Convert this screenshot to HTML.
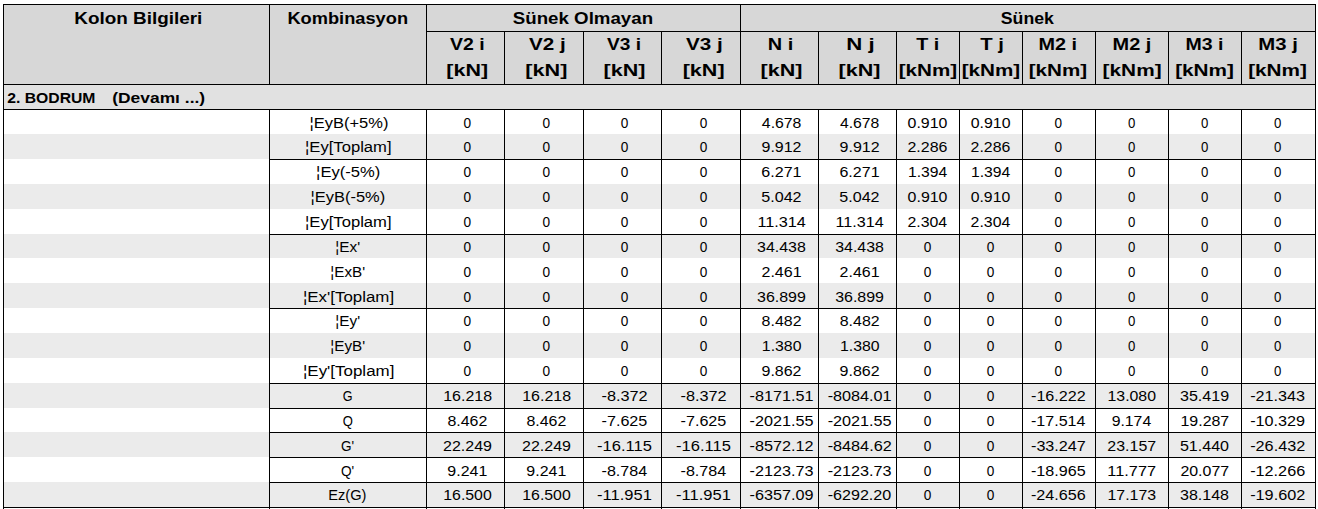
<!DOCTYPE html>
<html><head><meta charset="utf-8"><title>Tablo</title>
<style>
html,body{margin:0;padding:0;background:#fff;}
body{width:1318px;height:509px;position:relative;overflow:hidden;font-family:"Liberation Sans",sans-serif;color:#000;}
.r{position:absolute;}
.t{position:absolute;left:0;display:block;height:26px;line-height:26px;white-space:pre;transform-origin:0 0;}
.h{font-size:16.5px;font-weight:bold;}
.b{font-size:14px;}
.s{font-size:14px;font-weight:bold;}
</style></head><body>
<div class="r" style="left:3px;top:4px;width:1313px;height:81px;background:#d7d7d7"></div>
<div class="r" style="left:3px;top:85px;width:1313px;height:24px;background:#e1e1e1"></div>
<div class="r" style="left:3px;top:134px;width:1313px;height:25px;background:#ebebeb"></div>
<div class="r" style="left:3px;top:184px;width:1313px;height:25px;background:#ebebeb"></div>
<div class="r" style="left:3px;top:234px;width:1313px;height:24px;background:#ebebeb"></div>
<div class="r" style="left:3px;top:283px;width:1313px;height:25px;background:#ebebeb"></div>
<div class="r" style="left:3px;top:333px;width:1313px;height:25px;background:#ebebeb"></div>
<div class="r" style="left:3px;top:383px;width:1313px;height:25px;background:#ebebeb"></div>
<div class="r" style="left:3px;top:432px;width:1313px;height:25px;background:#ebebeb"></div>
<div class="r" style="left:3px;top:482px;width:1313px;height:25px;background:#ebebeb"></div>
<div class="r" style="left:3px;top:4px;width:1313px;height:1px;background:#000"></div>
<div class="r" style="left:426px;top:31px;width:890px;height:1px;background:#000"></div>
<div class="r" style="left:3px;top:84px;width:1313px;height:1px;background:#000"></div>
<div class="r" style="left:3px;top:109px;width:1313px;height:1px;background:#000"></div>
<div class="r" style="left:269px;top:159px;width:1047px;height:1px;background:#000"></div>
<div class="r" style="left:269px;top:234px;width:1047px;height:1px;background:#000"></div>
<div class="r" style="left:269px;top:308px;width:1047px;height:1px;background:#000"></div>
<div class="r" style="left:269px;top:383px;width:1047px;height:1px;background:#000"></div>
<div class="r" style="left:269px;top:408px;width:1047px;height:1px;background:#000"></div>
<div class="r" style="left:269px;top:432px;width:1047px;height:1px;background:#000"></div>
<div class="r" style="left:269px;top:457px;width:1047px;height:1px;background:#000"></div>
<div class="r" style="left:269px;top:482px;width:1047px;height:1px;background:#000"></div>
<div class="r" style="left:3px;top:507px;width:1313px;height:1px;background:#000"></div>
<div class="r" style="left:3px;top:4px;width:1px;height:505px;background:#000"></div>
<div class="r" style="left:1315px;top:4px;width:1px;height:505px;background:#000"></div>
<div class="r" style="left:269px;top:4px;width:1px;height:80px;background:#000"></div>
<div class="r" style="left:269px;top:109px;width:1px;height:400px;background:#000"></div>
<div class="r" style="left:426px;top:4px;width:1px;height:80px;background:#000"></div>
<div class="r" style="left:426px;top:109px;width:1px;height:400px;background:#000"></div>
<div class="r" style="left:504px;top:31px;width:1px;height:53px;background:#000"></div>
<div class="r" style="left:504px;top:109px;width:1px;height:400px;background:#000"></div>
<div class="r" style="left:583px;top:31px;width:1px;height:53px;background:#000"></div>
<div class="r" style="left:583px;top:109px;width:1px;height:400px;background:#000"></div>
<div class="r" style="left:661px;top:31px;width:1px;height:53px;background:#000"></div>
<div class="r" style="left:661px;top:109px;width:1px;height:400px;background:#000"></div>
<div class="r" style="left:740px;top:4px;width:1px;height:80px;background:#000"></div>
<div class="r" style="left:740px;top:109px;width:1px;height:400px;background:#000"></div>
<div class="r" style="left:818px;top:31px;width:1px;height:53px;background:#000"></div>
<div class="r" style="left:818px;top:109px;width:1px;height:400px;background:#000"></div>
<div class="r" style="left:896px;top:31px;width:1px;height:53px;background:#000"></div>
<div class="r" style="left:896px;top:109px;width:1px;height:400px;background:#000"></div>
<div class="r" style="left:959px;top:31px;width:1px;height:53px;background:#000"></div>
<div class="r" style="left:959px;top:109px;width:1px;height:400px;background:#000"></div>
<div class="r" style="left:1022px;top:31px;width:1px;height:53px;background:#000"></div>
<div class="r" style="left:1022px;top:109px;width:1px;height:400px;background:#000"></div>
<div class="r" style="left:1095px;top:31px;width:1px;height:53px;background:#000"></div>
<div class="r" style="left:1095px;top:109px;width:1px;height:400px;background:#000"></div>
<div class="r" style="left:1168px;top:31px;width:1px;height:53px;background:#000"></div>
<div class="r" style="left:1168px;top:109px;width:1px;height:400px;background:#000"></div>
<div class="r" style="left:1241px;top:31px;width:1px;height:53px;background:#000"></div>
<div class="r" style="left:1241px;top:109px;width:1px;height:400px;background:#000"></div>
<span class="t h" style="top:5px;transform:translateX(74.31px) scaleX(1.1441)">Kolon Bilgileri</span>
<span class="t h" style="top:5px;transform:translateX(287.43px) scaleX(1.1057)">Kombinasyon</span>
<span class="t h" style="top:5px;transform:translateX(512.81px) scaleX(1.1331)">Sünek Olmayan</span>
<span class="t h" style="top:5px;transform:translateX(1000.78px) scaleX(1.0732)">Sünek</span>
<span class="t h" style="top:31px;transform:translateX(450.09px) scaleX(1.1789)">V2 i</span>
<span class="t h" style="top:31px;transform:translateX(529.03px) scaleX(1.2500)">V2 j</span>
<span class="t h" style="top:31px;transform:translateX(607.05px) scaleX(1.1581)">V3 i</span>
<span class="t h" style="top:31px;transform:translateX(686.03px) scaleX(1.2500)">V3 j</span>
<span class="t h" style="top:31px;transform:translateX(767.72px) scaleX(1.2094)">N i</span>
<span class="t h" style="top:31px;transform:translateX(846.32px) scaleX(1.3481)">N j</span>
<span class="t h" style="top:31px;transform:translateX(916.27px) scaleX(1.1939)">T i</span>
<span class="t h" style="top:31px;transform:translateX(980.30px) scaleX(1.2305)">T j</span>
<span class="t h" style="top:31px;transform:translateX(1038.45px) scaleX(1.2020)">M2 i</span>
<span class="t h" style="top:31px;transform:translateX(1112.61px) scaleX(1.2077)">M2 j</span>
<span class="t h" style="top:31px;transform:translateX(1185.50px) scaleX(1.1822)">M3 i</span>
<span class="t h" style="top:31px;transform:translateX(1258.29px) scaleX(1.2322)">M3 j</span>
<span class="t h" style="top:57px;transform:translateX(446.37px) scaleX(1.3005)">[kN]</span>
<span class="t h" style="top:57px;transform:translateX(525.28px) scaleX(1.3111)">[kN]</span>
<span class="t h" style="top:57px;transform:translateX(603.58px) scaleX(1.3044)">[kN]</span>
<span class="t h" style="top:57px;transform:translateX(682.67px) scaleX(1.3055)">[kN]</span>
<span class="t h" style="top:57px;transform:translateX(760.58px) scaleX(1.3044)">[kN]</span>
<span class="t h" style="top:57px;transform:translateX(838.49px) scaleX(1.3056)">[kN]</span>
<span class="t h" style="top:57px;transform:translateX(898.65px) scaleX(1.2504)">[kNm]</span>
<span class="t h" style="top:57px;transform:translateX(961.66px) scaleX(1.2531)">[kNm]</span>
<span class="t h" style="top:57px;transform:translateX(1028.65px) scaleX(1.2504)">[kNm]</span>
<span class="t h" style="top:57px;transform:translateX(1102.61px) scaleX(1.2608)">[kNm]</span>
<span class="t h" style="top:57px;transform:translateX(1175.16px) scaleX(1.2584)">[kNm]</span>
<span class="t h" style="top:57px;transform:translateX(1248.16px) scaleX(1.2584)">[kNm]</span>
<span class="t s" style="top:84.5px;transform:translateX(7.21px) scaleX(1.1236)">2. BODRUM</span>
<span class="t s" style="top:84.5px;transform:translateX(112.22px) scaleX(1.2436)">(Devamı ...)</span>
<span class="t b" style="top:110px;transform:translateX(309.45px) scaleX(1.1778)">¦EyB(+5%)</span>
<span class="t b" style="top:110px;transform:translateX(463.62px) scaleX(0.9751)">0</span>
<span class="t b" style="top:110px;transform:translateX(542.62px) scaleX(0.9751)">0</span>
<span class="t b" style="top:110px;transform:translateX(620.76px) scaleX(0.9736)">0</span>
<span class="t b" style="top:110px;transform:translateX(699.76px) scaleX(0.9736)">0</span>
<span class="t b" style="top:110px;transform:translateX(761.86px) scaleX(1.1275)">4.678</span>
<span class="t b" style="top:110px;transform:translateX(839.97px) scaleX(1.1231)">4.678</span>
<span class="t b" style="top:110px;transform:translateX(907.58px) scaleX(1.1380)">0.910</span>
<span class="t b" style="top:110px;transform:translateX(970.68px) scaleX(1.1361)">0.910</span>
<span class="t b" style="top:110px;transform:translateX(1054.51px) scaleX(0.9703)">0</span>
<span class="t b" style="top:110px;transform:translateX(1128.01px) scaleX(0.9426)">0</span>
<span class="t b" style="top:110px;transform:translateX(1201.01px) scaleX(0.9426)">0</span>
<span class="t b" style="top:110px;transform:translateX(1274.01px) scaleX(0.9426)">0</span>
<span class="t b" style="top:134px;transform:translateX(305.05px) scaleX(1.1868)">¦Ey[Toplam]</span>
<span class="t b" style="top:134px;transform:translateX(463.61px) scaleX(0.9748)">0</span>
<span class="t b" style="top:134px;transform:translateX(542.61px) scaleX(0.9748)">0</span>
<span class="t b" style="top:134px;transform:translateX(620.76px) scaleX(0.9744)">0</span>
<span class="t b" style="top:134px;transform:translateX(699.76px) scaleX(0.9744)">0</span>
<span class="t b" style="top:134px;transform:translateX(761.49px) scaleX(1.1416)">9.912</span>
<span class="t b" style="top:134px;transform:translateX(839.59px) scaleX(1.1427)">9.912</span>
<span class="t b" style="top:134px;transform:translateX(907.49px) scaleX(1.1410)">2.286</span>
<span class="t b" style="top:134px;transform:translateX(970.60px) scaleX(1.1342)">2.286</span>
<span class="t b" style="top:134px;transform:translateX(1054.51px) scaleX(0.9708)">0</span>
<span class="t b" style="top:134px;transform:translateX(1128.01px) scaleX(0.9424)">0</span>
<span class="t b" style="top:134px;transform:translateX(1201.01px) scaleX(0.9424)">0</span>
<span class="t b" style="top:134px;transform:translateX(1274.01px) scaleX(0.9424)">0</span>
<span class="t b" style="top:159px;transform:translateX(316.10px) scaleX(1.1832)">¦Ey(-5%)</span>
<span class="t b" style="top:159px;transform:translateX(463.62px) scaleX(0.9751)">0</span>
<span class="t b" style="top:159px;transform:translateX(542.62px) scaleX(0.9751)">0</span>
<span class="t b" style="top:159px;transform:translateX(620.76px) scaleX(0.9736)">0</span>
<span class="t b" style="top:159px;transform:translateX(699.76px) scaleX(0.9736)">0</span>
<span class="t b" style="top:159px;transform:translateX(761.37px) scaleX(1.1460)">6.271</span>
<span class="t b" style="top:159px;transform:translateX(839.46px) scaleX(1.1440)">6.271</span>
<span class="t b" style="top:159px;transform:translateX(907.93px) scaleX(1.1185)">1.394</span>
<span class="t b" style="top:159px;transform:translateX(970.99px) scaleX(1.1229)">1.394</span>
<span class="t b" style="top:159px;transform:translateX(1054.51px) scaleX(0.9703)">0</span>
<span class="t b" style="top:159px;transform:translateX(1128.01px) scaleX(0.9426)">0</span>
<span class="t b" style="top:159px;transform:translateX(1201.01px) scaleX(0.9426)">0</span>
<span class="t b" style="top:159px;transform:translateX(1274.01px) scaleX(0.9426)">0</span>
<span class="t b" style="top:184px;transform:translateX(310.58px) scaleX(1.1733)">¦EyB(-5%)</span>
<span class="t b" style="top:184px;transform:translateX(463.61px) scaleX(0.9748)">0</span>
<span class="t b" style="top:184px;transform:translateX(542.61px) scaleX(0.9748)">0</span>
<span class="t b" style="top:184px;transform:translateX(620.76px) scaleX(0.9744)">0</span>
<span class="t b" style="top:184px;transform:translateX(699.76px) scaleX(0.9744)">0</span>
<span class="t b" style="top:184px;transform:translateX(761.23px) scaleX(1.1511)">5.042</span>
<span class="t b" style="top:184px;transform:translateX(839.33px) scaleX(1.1481)">5.042</span>
<span class="t b" style="top:184px;transform:translateX(907.59px) scaleX(1.1380)">0.910</span>
<span class="t b" style="top:184px;transform:translateX(970.69px) scaleX(1.1282)">0.910</span>
<span class="t b" style="top:184px;transform:translateX(1054.51px) scaleX(0.9708)">0</span>
<span class="t b" style="top:184px;transform:translateX(1128.01px) scaleX(0.9424)">0</span>
<span class="t b" style="top:184px;transform:translateX(1201.01px) scaleX(0.9424)">0</span>
<span class="t b" style="top:184px;transform:translateX(1274.01px) scaleX(0.9424)">0</span>
<span class="t b" style="top:209px;transform:translateX(305.05px) scaleX(1.1868)">¦Ey[Toplam]</span>
<span class="t b" style="top:209px;transform:translateX(463.62px) scaleX(0.9751)">0</span>
<span class="t b" style="top:209px;transform:translateX(542.62px) scaleX(0.9751)">0</span>
<span class="t b" style="top:209px;transform:translateX(620.76px) scaleX(0.9736)">0</span>
<span class="t b" style="top:209px;transform:translateX(699.76px) scaleX(0.9736)">0</span>
<span class="t b" style="top:209px;transform:translateX(757.43px) scaleX(1.1593)">11.314</span>
<span class="t b" style="top:209px;transform:translateX(835.53px) scaleX(1.1527)">11.314</span>
<span class="t b" style="top:209px;transform:translateX(907.50px) scaleX(1.1330)">2.304</span>
<span class="t b" style="top:209px;transform:translateX(970.60px) scaleX(1.1329)">2.304</span>
<span class="t b" style="top:209px;transform:translateX(1054.51px) scaleX(0.9703)">0</span>
<span class="t b" style="top:209px;transform:translateX(1128.01px) scaleX(0.9426)">0</span>
<span class="t b" style="top:209px;transform:translateX(1201.01px) scaleX(0.9426)">0</span>
<span class="t b" style="top:209px;transform:translateX(1274.01px) scaleX(0.9426)">0</span>
<span class="t b" style="top:234px;transform:translateX(335.36px) scaleX(1.0956)">¦Ex'</span>
<span class="t b" style="top:234px;transform:translateX(463.61px) scaleX(0.9748)">0</span>
<span class="t b" style="top:234px;transform:translateX(542.61px) scaleX(0.9748)">0</span>
<span class="t b" style="top:234px;transform:translateX(620.76px) scaleX(0.9744)">0</span>
<span class="t b" style="top:234px;transform:translateX(699.76px) scaleX(0.9744)">0</span>
<span class="t b" style="top:234px;transform:translateX(757.03px) scaleX(1.1390)">34.438</span>
<span class="t b" style="top:234px;transform:translateX(835.17px) scaleX(1.1378)">34.438</span>
<span class="t b" style="top:234px;transform:translateX(923.76px) scaleX(0.9744)">0</span>
<span class="t b" style="top:234px;transform:translateX(986.85px) scaleX(0.9760)">0</span>
<span class="t b" style="top:234px;transform:translateX(1054.51px) scaleX(0.9708)">0</span>
<span class="t b" style="top:234px;transform:translateX(1128.01px) scaleX(0.9424)">0</span>
<span class="t b" style="top:234px;transform:translateX(1201.01px) scaleX(0.9424)">0</span>
<span class="t b" style="top:234px;transform:translateX(1274.01px) scaleX(0.9424)">0</span>
<span class="t b" style="top:259px;transform:translateX(330.36px) scaleX(1.0877)">¦ExB'</span>
<span class="t b" style="top:259px;transform:translateX(463.62px) scaleX(0.9751)">0</span>
<span class="t b" style="top:259px;transform:translateX(542.62px) scaleX(0.9751)">0</span>
<span class="t b" style="top:259px;transform:translateX(620.76px) scaleX(0.9736)">0</span>
<span class="t b" style="top:259px;transform:translateX(699.76px) scaleX(0.9736)">0</span>
<span class="t b" style="top:259px;transform:translateX(761.49px) scaleX(1.1442)">2.461</span>
<span class="t b" style="top:259px;transform:translateX(839.59px) scaleX(1.1401)">2.461</span>
<span class="t b" style="top:259px;transform:translateX(923.76px) scaleX(0.9736)">0</span>
<span class="t b" style="top:259px;transform:translateX(986.86px) scaleX(0.9740)">0</span>
<span class="t b" style="top:259px;transform:translateX(1054.51px) scaleX(0.9703)">0</span>
<span class="t b" style="top:259px;transform:translateX(1128.01px) scaleX(0.9426)">0</span>
<span class="t b" style="top:259px;transform:translateX(1201.01px) scaleX(0.9426)">0</span>
<span class="t b" style="top:259px;transform:translateX(1274.01px) scaleX(0.9426)">0</span>
<span class="t b" style="top:284px;transform:translateX(302.97px) scaleX(1.2065)">¦Ex'[Toplam]</span>
<span class="t b" style="top:284px;transform:translateX(463.61px) scaleX(0.9748)">0</span>
<span class="t b" style="top:284px;transform:translateX(542.61px) scaleX(0.9748)">0</span>
<span class="t b" style="top:284px;transform:translateX(620.76px) scaleX(0.9744)">0</span>
<span class="t b" style="top:284px;transform:translateX(699.76px) scaleX(0.9744)">0</span>
<span class="t b" style="top:284px;transform:translateX(757.03px) scaleX(1.1407)">36.899</span>
<span class="t b" style="top:284px;transform:translateX(835.17px) scaleX(1.1396)">36.899</span>
<span class="t b" style="top:284px;transform:translateX(923.76px) scaleX(0.9744)">0</span>
<span class="t b" style="top:284px;transform:translateX(986.85px) scaleX(0.9760)">0</span>
<span class="t b" style="top:284px;transform:translateX(1054.51px) scaleX(0.9708)">0</span>
<span class="t b" style="top:284px;transform:translateX(1128.01px) scaleX(0.9424)">0</span>
<span class="t b" style="top:284px;transform:translateX(1201.01px) scaleX(0.9424)">0</span>
<span class="t b" style="top:284px;transform:translateX(1274.01px) scaleX(0.9424)">0</span>
<span class="t b" style="top:308px;transform:translateX(335.36px) scaleX(1.0955)">¦Ey'</span>
<span class="t b" style="top:308px;transform:translateX(463.62px) scaleX(0.9751)">0</span>
<span class="t b" style="top:308px;transform:translateX(542.62px) scaleX(0.9751)">0</span>
<span class="t b" style="top:308px;transform:translateX(620.76px) scaleX(0.9736)">0</span>
<span class="t b" style="top:308px;transform:translateX(699.76px) scaleX(0.9736)">0</span>
<span class="t b" style="top:308px;transform:translateX(761.62px) scaleX(1.1381)">8.482</span>
<span class="t b" style="top:308px;transform:translateX(839.76px) scaleX(1.1381)">8.482</span>
<span class="t b" style="top:308px;transform:translateX(923.76px) scaleX(0.9736)">0</span>
<span class="t b" style="top:308px;transform:translateX(986.86px) scaleX(0.9740)">0</span>
<span class="t b" style="top:308px;transform:translateX(1054.51px) scaleX(0.9703)">0</span>
<span class="t b" style="top:308px;transform:translateX(1128.01px) scaleX(0.9426)">0</span>
<span class="t b" style="top:308px;transform:translateX(1201.01px) scaleX(0.9426)">0</span>
<span class="t b" style="top:308px;transform:translateX(1274.01px) scaleX(0.9426)">0</span>
<span class="t b" style="top:333px;transform:translateX(330.37px) scaleX(1.0875)">¦EyB'</span>
<span class="t b" style="top:333px;transform:translateX(463.61px) scaleX(0.9748)">0</span>
<span class="t b" style="top:333px;transform:translateX(542.61px) scaleX(0.9748)">0</span>
<span class="t b" style="top:333px;transform:translateX(620.76px) scaleX(0.9744)">0</span>
<span class="t b" style="top:333px;transform:translateX(699.76px) scaleX(0.9744)">0</span>
<span class="t b" style="top:333px;transform:translateX(761.84px) scaleX(1.1300)">1.380</span>
<span class="t b" style="top:333px;transform:translateX(839.96px) scaleX(1.1309)">1.380</span>
<span class="t b" style="top:333px;transform:translateX(923.76px) scaleX(0.9744)">0</span>
<span class="t b" style="top:333px;transform:translateX(986.85px) scaleX(0.9760)">0</span>
<span class="t b" style="top:333px;transform:translateX(1054.51px) scaleX(0.9708)">0</span>
<span class="t b" style="top:333px;transform:translateX(1128.01px) scaleX(0.9424)">0</span>
<span class="t b" style="top:333px;transform:translateX(1201.01px) scaleX(0.9424)">0</span>
<span class="t b" style="top:333px;transform:translateX(1274.01px) scaleX(0.9424)">0</span>
<span class="t b" style="top:358px;transform:translateX(302.95px) scaleX(1.2100)">¦Ey'[Toplam]</span>
<span class="t b" style="top:358px;transform:translateX(463.62px) scaleX(0.9751)">0</span>
<span class="t b" style="top:358px;transform:translateX(542.62px) scaleX(0.9751)">0</span>
<span class="t b" style="top:358px;transform:translateX(620.76px) scaleX(0.9736)">0</span>
<span class="t b" style="top:358px;transform:translateX(699.76px) scaleX(0.9736)">0</span>
<span class="t b" style="top:358px;transform:translateX(761.49px) scaleX(1.1415)">9.862</span>
<span class="t b" style="top:358px;transform:translateX(839.59px) scaleX(1.1430)">9.862</span>
<span class="t b" style="top:358px;transform:translateX(923.76px) scaleX(0.9736)">0</span>
<span class="t b" style="top:358px;transform:translateX(986.86px) scaleX(0.9740)">0</span>
<span class="t b" style="top:358px;transform:translateX(1054.51px) scaleX(0.9703)">0</span>
<span class="t b" style="top:358px;transform:translateX(1128.01px) scaleX(0.9426)">0</span>
<span class="t b" style="top:358px;transform:translateX(1201.01px) scaleX(0.9426)">0</span>
<span class="t b" style="top:358px;transform:translateX(1274.01px) scaleX(0.9426)">0</span>
<span class="t b" style="top:383px;transform:translateX(342.67px) scaleX(0.8999)">G</span>
<span class="t b" style="top:383px;transform:translateX(443.22px) scaleX(1.1392)">16.218</span>
<span class="t b" style="top:383px;transform:translateX(522.22px) scaleX(1.1392)">16.218</span>
<span class="t b" style="top:383px;transform:translateX(601.50px) scaleX(1.1618)">-8.372</span>
<span class="t b" style="top:383px;transform:translateX(680.50px) scaleX(1.1618)">-8.372</span>
<span class="t b" style="top:383px;transform:translateX(749.51px) scaleX(1.1573)">-8171.51</span>
<span class="t b" style="top:383px;transform:translateX(827.65px) scaleX(1.1575)">-8084.01</span>
<span class="t b" style="top:383px;transform:translateX(923.76px) scaleX(0.9744)">0</span>
<span class="t b" style="top:383px;transform:translateX(986.85px) scaleX(0.9760)">0</span>
<span class="t b" style="top:383px;transform:translateX(1031.00px) scaleX(1.1539)">-16.222</span>
<span class="t b" style="top:383px;transform:translateX(1107.49px) scaleX(1.1328)">13.080</span>
<span class="t b" style="top:383px;transform:translateX(1180.03px) scaleX(1.1458)">35.419</span>
<span class="t b" style="top:383px;transform:translateX(1250.16px) scaleX(1.1560)">-21.343</span>
<span class="t b" style="top:408px;transform:translateX(342.67px) scaleX(0.9321)">Q</span>
<span class="t b" style="top:408px;transform:translateX(447.45px) scaleX(1.1389)">8.462</span>
<span class="t b" style="top:408px;transform:translateX(526.45px) scaleX(1.1389)">8.462</span>
<span class="t b" style="top:408px;transform:translateX(601.52px) scaleX(1.1542)">-7.625</span>
<span class="t b" style="top:408px;transform:translateX(680.52px) scaleX(1.1542)">-7.625</span>
<span class="t b" style="top:408px;transform:translateX(749.52px) scaleX(1.1574)">-2021.55</span>
<span class="t b" style="top:408px;transform:translateX(827.64px) scaleX(1.1572)">-2021.55</span>
<span class="t b" style="top:408px;transform:translateX(923.76px) scaleX(0.9736)">0</span>
<span class="t b" style="top:408px;transform:translateX(986.86px) scaleX(0.9740)">0</span>
<span class="t b" style="top:408px;transform:translateX(1031.02px) scaleX(1.1461)">-17.514</span>
<span class="t b" style="top:408px;transform:translateX(1111.66px) scaleX(1.1281)">9.174</span>
<span class="t b" style="top:408px;transform:translateX(1180.47px) scaleX(1.1384)">19.287</span>
<span class="t b" style="top:408px;transform:translateX(1250.16px) scaleX(1.1571)">-10.329</span>
<span class="t b" style="top:433px;transform:translateX(341.05px) scaleX(0.9661)">G'</span>
<span class="t b" style="top:433px;transform:translateX(443.03px) scaleX(1.1430)">22.249</span>
<span class="t b" style="top:433px;transform:translateX(522.03px) scaleX(1.1430)">22.249</span>
<span class="t b" style="top:433px;transform:translateX(597.12px) scaleX(1.1785)">-16.115</span>
<span class="t b" style="top:433px;transform:translateX(676.12px) scaleX(1.1785)">-16.115</span>
<span class="t b" style="top:433px;transform:translateX(749.50px) scaleX(1.1594)">-8572.12</span>
<span class="t b" style="top:433px;transform:translateX(827.65px) scaleX(1.1588)">-8484.62</span>
<span class="t b" style="top:433px;transform:translateX(923.76px) scaleX(0.9744)">0</span>
<span class="t b" style="top:433px;transform:translateX(986.85px) scaleX(0.9760)">0</span>
<span class="t b" style="top:433px;transform:translateX(1031.00px) scaleX(1.1539)">-33.247</span>
<span class="t b" style="top:433px;transform:translateX(1107.37px) scaleX(1.1390)">23.157</span>
<span class="t b" style="top:433px;transform:translateX(1179.90px) scaleX(1.1460)">51.440</span>
<span class="t b" style="top:433px;transform:translateX(1250.16px) scaleX(1.1599)">-26.432</span>
<span class="t b" style="top:458px;transform:translateX(340.97px) scaleX(0.9734)">Q'</span>
<span class="t b" style="top:458px;transform:translateX(447.35px) scaleX(1.1387)">9.241</span>
<span class="t b" style="top:458px;transform:translateX(526.35px) scaleX(1.1387)">9.241</span>
<span class="t b" style="top:458px;transform:translateX(601.53px) scaleX(1.1504)">-8.784</span>
<span class="t b" style="top:458px;transform:translateX(680.53px) scaleX(1.1504)">-8.784</span>
<span class="t b" style="top:458px;transform:translateX(749.52px) scaleX(1.1564)">-2123.73</span>
<span class="t b" style="top:458px;transform:translateX(827.65px) scaleX(1.1562)">-2123.73</span>
<span class="t b" style="top:458px;transform:translateX(923.76px) scaleX(0.9736)">0</span>
<span class="t b" style="top:458px;transform:translateX(986.86px) scaleX(0.9740)">0</span>
<span class="t b" style="top:458px;transform:translateX(1031.00px) scaleX(1.1505)">-18.965</span>
<span class="t b" style="top:458px;transform:translateX(1107.36px) scaleX(1.1669)">11.777</span>
<span class="t b" style="top:458px;transform:translateX(1180.38px) scaleX(1.1389)">20.077</span>
<span class="t b" style="top:458px;transform:translateX(1250.16px) scaleX(1.1587)">-12.266</span>
<span class="t b" style="top:482px;transform:translateX(328.25px) scaleX(1.0445)">Ez(G)</span>
<span class="t b" style="top:482px;transform:translateX(443.25px) scaleX(1.1322)">16.500</span>
<span class="t b" style="top:482px;transform:translateX(522.25px) scaleX(1.1322)">16.500</span>
<span class="t b" style="top:482px;transform:translateX(597.12px) scaleX(1.1792)">-11.951</span>
<span class="t b" style="top:482px;transform:translateX(676.12px) scaleX(1.1792)">-11.951</span>
<span class="t b" style="top:482px;transform:translateX(749.51px) scaleX(1.1574)">-6357.09</span>
<span class="t b" style="top:482px;transform:translateX(827.63px) scaleX(1.1510)">-6292.20</span>
<span class="t b" style="top:482px;transform:translateX(923.76px) scaleX(0.9744)">0</span>
<span class="t b" style="top:482px;transform:translateX(986.85px) scaleX(0.9760)">0</span>
<span class="t b" style="top:482px;transform:translateX(1031.00px) scaleX(1.1521)">-24.656</span>
<span class="t b" style="top:482px;transform:translateX(1107.48px) scaleX(1.1344)">17.173</span>
<span class="t b" style="top:482px;transform:translateX(1180.04px) scaleX(1.1441)">38.148</span>
<span class="t b" style="top:482px;transform:translateX(1250.16px) scaleX(1.1599)">-19.602</span>
</body></html>
